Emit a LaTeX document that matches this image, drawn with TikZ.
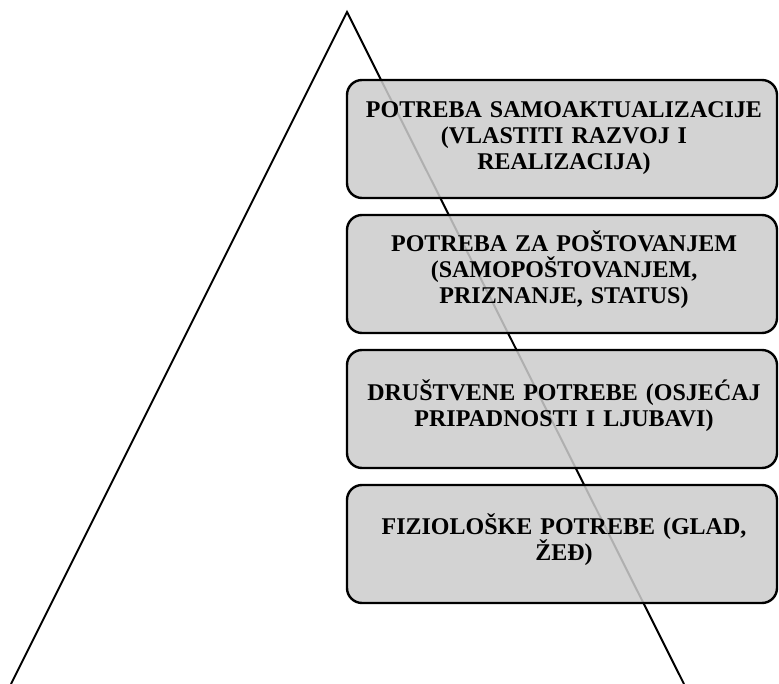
\documentclass[tikz,border=0pt]{standalone}
\usepackage{fontspec}
\setmainfont{Liberation Serif}
\begin{document}
\begin{tikzpicture}[x=1pt,y=1pt,
  level/.style={draw=black, line width=2.4pt, rounded corners=15pt, fill=black!20, fill opacity=0.86,
    minimum width=430pt, minimum height=118pt, inner sep=0pt},
  leveltext/.style={anchor=base, text width=430pt, align=center, inner sep=0pt,
    font=\fontsize{24}{26}\selectfont\bfseries},
  side/.style={draw=black, line width=2pt}]
\useasboundingbox (0,0) rectangle (779,-684);
% triangle legs
\coordinate (apex) at (347,-12);
\coordinate (bl) at (11,-684);
\coordinate (br) at (684,-684);
\draw[side, line join=miter] (bl) -- (apex) -- (br);
% boxes
\node[level] (b1) at (562,-139) {};
\node[level] (b2) at (562,-274) {};
\node[level] (b3) at (562,-409) {};
\node[level] (b4) at (562,-544) {};
% texts
\node[leveltext] (t1) at (564,-117.7) {POTREBA SAMOAKTUALIZACIJE\\(VLASTITI RAZVOJ I\\REALIZACIJA)};
\node[leveltext] (t2) at (564,-251.7) {POTREBA ZA POŠTOVANJEM\\(SAMOPOŠTOVANJEM,\\PRIZNANJE, STATUS)};
\node[leveltext] (t3) at (564,-400) {DRUŠTVENE POTREBE (OSJEĆAJ\\PRIPADNOSTI I LJUBAVI)};
\node[leveltext] (t4) at (564,-534) {FIZIOLOŠKE POTREBE (GLAD,\\ŽEĐ)};
\end{tikzpicture}
\end{document}
